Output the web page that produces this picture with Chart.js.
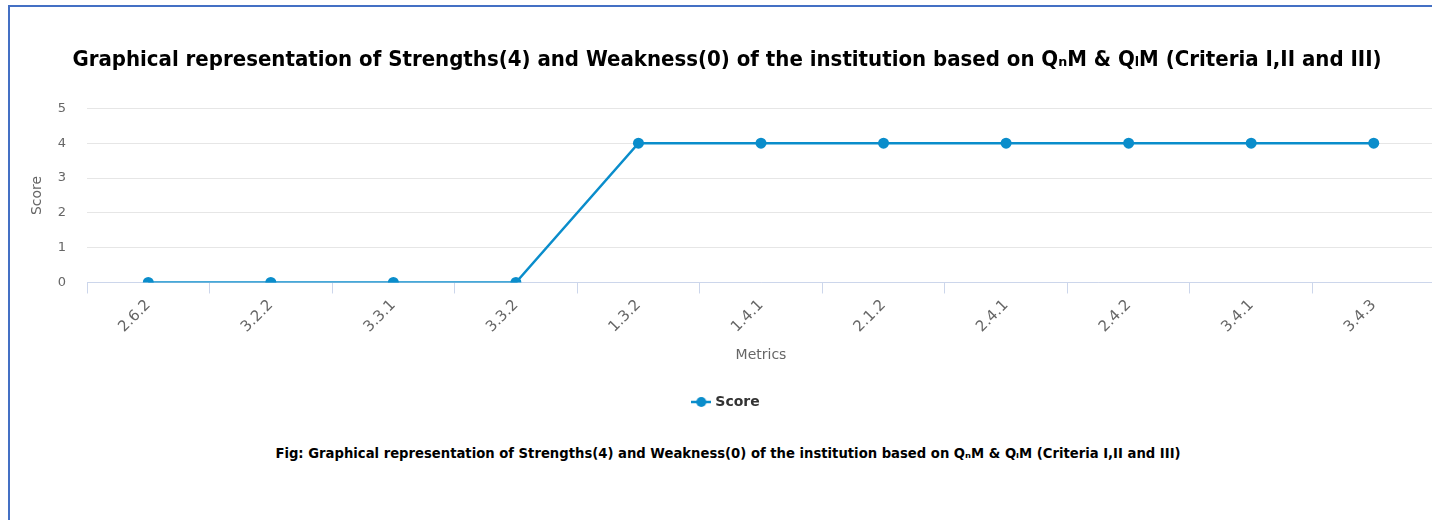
<!DOCTYPE html>
<html>
<head>
<meta charset="utf-8">
<script src="https://cdn.jsdelivr.net/npm/chart.js@4"></script>
<style>
  html, body { margin: 0; padding: 0; background: #fff; overflow: hidden; }
  body { width: 1432px; height: 520px; position: relative; }
  .frame {
    position: absolute; left: 8px; top: 5px; width: 1500px; height: 600px;
    border-left: 2px solid #4470c4; border-top: 2px solid #4470c4;
  }
  .chart-box { position: absolute; left: 10px; top: 7px; width: 1436px; height: 412px; }
  .caption {
    position: absolute; left: 10px; width: 1436px; top: 446px; text-align: center;
    font-family: "DejaVu Sans", sans-serif; font-weight: bold; font-size: 13.2px; color: #000;
  }
</style>
</head>
<body>
<div class="frame"></div>
<div class="chart-box"><canvas id="scoreChart"></canvas></div>
<div class="caption">Fig: Graphical representation of Strengths(4) and Weakness(0) of the institution based on QₙM &amp; QₗM (Criteria I,II and III)</div>
<script>
const metrics = ['2.6.2', '3.2.2', '3.3.1', '3.3.2', '1.3.2', '1.4.1', '2.1.2', '2.4.1', '2.4.2', '3.4.1', '3.4.3'];
const scores = [0, 0, 0, 0, 4, 4, 4, 4, 4, 4, 4];
const yTicks = [0, 1, 2, 3, 4, 5];

const LINE_COLOR = '#0a8dcb';
const FONT = '"DejaVu Sans", sans-serif';

// legend marker: short line with a dot, like the original
function legendMarker() {
    const c = document.createElement('canvas');
    c.width = 20; c.height = 12;
    const g = c.getContext('2d');
    g.strokeStyle = LINE_COLOR;
    g.lineWidth = 2.5;
    g.beginPath(); g.moveTo(0, 6); g.lineTo(20, 6); g.stroke();
    g.fillStyle = LINE_COLOR;
    g.beginPath(); g.arc(10, 6, 5, 0, Math.PI * 2); g.fill();
    return c;
}

const ctx = document.getElementById('scoreChart').getContext('2d');
new Chart(ctx, {
    type: 'line',
    data: {
        labels: metrics,
        datasets: [{
            label: 'Score',
            data: scores,
            borderColor: LINE_COLOR,
            backgroundColor: LINE_COLOR,
            borderWidth: 2.5,
            pointRadius: 5.5,
            pointHoverRadius: 5.5,
            pointBackgroundColor: LINE_COLOR,
            pointBorderWidth: 0,
            tension: 0,
            fill: false
        }]
    },
    options: {
        responsive: true,
        maintainAspectRatio: false,
        animation: false,
        layout: { padding: { left: 9, right: 11, top: 0, bottom: 0 } },
        plugins: {
            title: {
                display: true,
                text: 'Graphical representation of Strengths(4) and Weakness(0) of the institution based on QₙM & QₗM (Criteria I,II and III)',
                color: '#000',
                font: { family: '"DejaVu Sans Condensed", "DejaVu Sans", sans-serif', size: 22, weight: 'bold' },
                padding: { top: 40, bottom: 35 }
            },
            legend: {
                position: 'bottom',
                labels: {
                    usePointStyle: true,
                    pointStyle: legendMarker(),
                    color: '#333',
                    font: { family: FONT, size: 14, weight: 'bold' },
                    padding: 16
                }
            },
            tooltip: { enabled: false }
        },
        scales: {
            x: {
                offset: true,
                grid: {
                    offset: true,
                    drawOnChartArea: false,
                    drawTicks: true,
                    tickLength: 11,
                    color: '#ccd6eb'
                },
                border: { color: '#ccd6eb', width: 1 },
                ticks: {
                    color: '#666',
                    font: { family: FONT, size: 15 },
                    minRotation: 45,
                    maxRotation: 45,
                    padding: 3
                },
                title: {
                    display: true,
                    text: 'Metrics',
                    color: '#666',
                    font: { family: FONT, size: 14 },
                    padding: { top: 8, bottom: 15 }
                }
            },
            y: {
                min: 0,
                max: 5,
                afterBuildTicks: (axis) => { axis.ticks = yTicks.map(v => ({ value: v })); },
                afterFit: (axis) => { axis.width = 68; },
                grid: { color: '#e6e6e6', drawTicks: false },
                border: { display: false },
                ticks: {
                    color: '#666',
                    font: { family: FONT, size: 13 },
                    padding: 21
                },
                title: {
                    display: true,
                    text: 'Score',
                    color: '#666',
                    font: { family: FONT, size: 14 },
                    padding: { top: 10, bottom: 0 }
                }
            }
        }
    }
});
</script>
</body>
</html>
